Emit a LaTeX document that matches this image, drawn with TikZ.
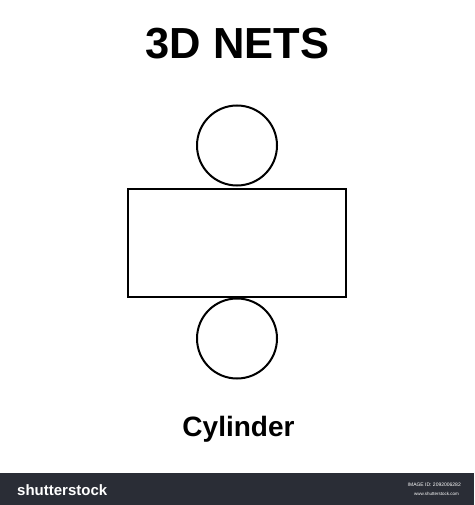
\documentclass[tikz,border=0pt]{standalone}
\usepackage{fontspec}
\setmainfont{Liberation Sans}
\begin{document}
\begin{tikzpicture}[x=1pt,y=-1pt,
  shapeline/.style={draw=black,line width=2pt,inner sep=0pt,fill=white},
  titletext/.style={font=\fontsize{43.5}{48}\selectfont\bfseries,inner sep=0pt,anchor=base},
  labeltext/.style={font=\fontsize{28}{32}\selectfont\bfseries,inner sep=0pt,anchor=base},
  bartext/.style={text=white,inner sep=0pt}]
\useasboundingbox[fill=white] (0,0) rectangle (474,505);
\node[titletext] (title) at (237.5,58.3) {3D NETS};
\node[shapeline,circle,minimum size=80pt] (top) at (237,145.5) {};
\node[shapeline,rectangle,minimum width=218pt,minimum height=108pt] (body) at (237.25,242.5) {};
\node[shapeline,circle,minimum size=80pt] (bottom) at (237,338.5) {};
\node[labeltext] (label) at (238.5,436.7) {Cylinder};
\fill[fill={rgb,255:red,42;green,45;blue,54}] (0,473) rectangle (474,505);
\node[bartext,anchor=base west,font=\fontsize{15}{16}\selectfont\bfseries] (brand) at (17,495) {shutterstock};
\node[bartext,anchor=east,font=\fontsize{5}{6}\selectfont] (imgid) at (461,485) {IMAGE ID: 2092006282};
\node[bartext,anchor=east,font=\fontsize{4.5}{5}\selectfont] (www) at (459,494) {www.shutterstock.com};
\end{tikzpicture}
\end{document}
